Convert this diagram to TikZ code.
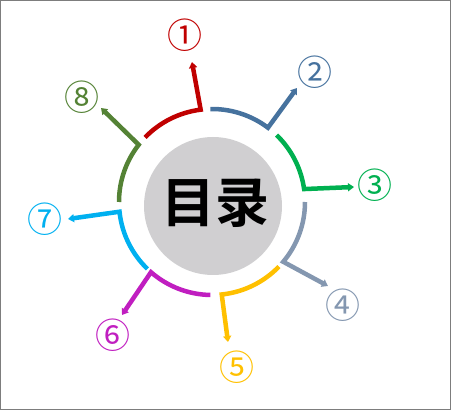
\documentclass[tikz,border=0pt]{standalone}
\usepackage{fontspec}
\newfontfamily\cjkfont{Noto Sans CJK SC}[BoldFont={Noto Sans CJK SC Bold}]
\usetikzlibrary{arrows.meta}
\definecolor{cRed}{RGB}{192,0,0}
\definecolor{cBlue}{RGB}{70,114,158}
\definecolor{cGreen}{RGB}{0,176,80}
\definecolor{cGray}{RGB}{132,151,176}
\definecolor{cYellow}{RGB}{255,192,0}
\definecolor{cMag}{RGB}{192,30,192}
\definecolor{cCyan}{RGB}{0,176,240}
\definecolor{cOlive}{RGB}{84,130,53}
\definecolor{cDisk}{RGB}{208,207,209}
\definecolor{cFrame}{RGB}{125,125,125}
\tikzset{
  seg/.style={line width=4.5pt, line join=miter, -{Triangle[width=8pt,length=6pt]}},
  numlabel/.style={inner sep=0pt, font=\cjkfont\fontsize{35}{35}\selectfont}
}
\begin{document}
\begin{tikzpicture}[x=1pt,y=1pt]
\useasboundingbox (0,0) rectangle (451,410);
\draw[cFrame, line width=1pt] (0.5,0.5) rectangle (450.5,409.5);
\coordinate (C) at (212,208);
\node[circle, fill=cDisk, minimum size=138pt, inner sep=0pt] (disk) at (213,204) {};
\node[inner sep=0pt, font=\cjkfont\bfseries\fontsize{54}{54}\selectfont] (title) at (215,207) {目录};
% tips
\coordinate (t1) at (192,348);
\coordinate (t2) at (297,322);
\coordinate (t3) at (354,223);
\coordinate (t4) at (328,124);
\coordinate (t5) at (228,68);
\coordinate (t6) at (122,95);
\coordinate (t7) at (68,191);
\coordinate (t8) at (101,302);
% labels
\node[numlabel, text=cRed] (n1) at (185,375) {①};
\node[numlabel, text=cBlue] (n2) at (315,338) {②};
\node[numlabel, text=cGreen] (n3) at (375,225) {③};
\node[numlabel, text=cGray] (n4) at (343,105) {④};
\node[numlabel, text=cYellow] (n5) at (237,43) {⑤};
\node[numlabel, text=cMag] (n6) at (113,75) {⑥};
\node[numlabel, text=cCyan] (n7) at (45,191) {⑦};
\node[numlabel, text=cOlive] (n8) at (82,313) {⑧};
% segments
\draw[seg, cRed] (C) ++(136:93) arc[start angle=136, end angle=97, radius=93] -- (t1);
\draw[seg, cBlue] (C) ++(91:93) arc[start angle=91, end angle=53, radius=93] -- (t2);
\draw[seg, cGreen] (C) ++(46:93) arc[start angle=46, end angle=8, radius=93] -- (t3);
\draw[seg, cGray] (C) ++(0:93) arc[start angle=0, end angle=-40, radius=93] -- (t4);
\draw[seg, cYellow] (C) ++(-44:93) arc[start angle=-44, end angle=-84, radius=93] -- (t5);
\draw[seg, cMag] (C) ++(-91:93) arc[start angle=-91, end angle=-131, radius=93] -- (t6);
\draw[seg, cCyan] (C) ++(-134:93) arc[start angle=-134, end angle=-174, radius=93] -- (t7);
\draw[seg, cOlive] (C) ++(-180:93) arc[start angle=-180, end angle=-218, radius=93] -- (t8);
\end{tikzpicture}
\end{document}
